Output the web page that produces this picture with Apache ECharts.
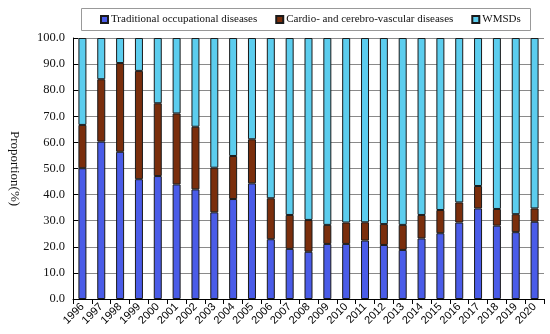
<!DOCTYPE html>
<html><head><meta charset="utf-8">
<script src="https://cdn.jsdelivr.net/npm/echarts@6/dist/echarts.min.js"></script>
<style>html,body{margin:0;padding:0;background:#fff}#c{width:550px;height:334px}</style>
</head><body><div id="c"></div>
<script>
const years = ['1996','1997','1998','1999','2000','2001','2002','2003','2004','2005','2006','2007','2008','2009','2010','2011','2012','2013','2014','2015','2016','2017','2018','2019','2020'];
const traditional = [50.1,60.3,56.4,45.9,47.1,43.9,42.0,33.2,38.3,44.3,22.9,19.2,18.1,21.1,21.1,22.4,20.7,18.8,23.2,25.2,29.3,34.7,28.1,25.6,29.6];
const cardioTop = [66.7,84.2,90.4,87.4,75.0,71.1,66.0,50.3,54.8,61.2,38.6,32.2,30.3,28.4,29.3,29.4,28.7,28.4,32.2,34.1,37.0,43.3,34.5,32.5,34.7];
const cardio = cardioTop.map((t,i)=>+(t-traditional[i]).toFixed(1));
const wmsds = cardioTop.map(t=>+(100-t).toFixed(1));
const yTicks = [0,10,20,30,40,50,60,70,80,90,100];

const chart = echarts.init(document.getElementById('c'));
const serif = 'Liberation Serif';
const border = {borderColor:'#1a1a1a', borderWidth:1};
chart.setOption({
  animation:false,
  graphic:[{type:'rect', shape:{x:81.5, y:8.5, width:449, height:22},
    style:{fill:'none', stroke:'#999', lineWidth:1}}],
  legend:{
    left:100, top:14, itemGap:18, padding:0,
    itemWidth:7, itemHeight:7, icon:'rect',
    textStyle:{fontFamily:serif, fontSize:11, color:'#111', padding:[0,0,0,-2]},
    data:['Traditional occupational diseases','Cardio- and cerebro-vascular diseases','WMSDs']
  },
  grid:{left:68, right:6, top:38, bottom:35},
  xAxis:{type:'category', data:years,
    axisLine:{lineStyle:{color:'#000'}},
    axisTick:{show:true, alignWithLabel:false, lineStyle:{color:'#000'}},
    axisLabel:{rotate:45, interval:0, fontFamily:'Liberation Sans', fontSize:11, color:'#000', margin:6}
  },
  yAxis:{type:'value', min:0, max:100, interval:10,
    name:'Proportion(%)', nameLocation:'middle', nameRotate:-90, nameGap:52,
    nameTextStyle:{fontFamily:serif, fontSize:13, color:'#111'},
    axisLine:{show:true, lineStyle:{color:'#000'}},
    axisTick:{show:true, inside:true, lineStyle:{color:'#000'}},
    axisLabel:{formatter:v=>v.toFixed(1), fontFamily:serif, fontSize:12.5, color:'#111', margin:8},
    splitLine:{lineStyle:{color:'#8a8a8a'}}
  },
  series:[
    {name:'Traditional occupational diseases', type:'bar', stack:'a', data:traditional, barWidth:8,
      itemStyle:Object.assign({color:'#4a5ce8'}, border)},
    {name:'Cardio- and cerebro-vascular diseases', type:'bar', stack:'a', data:cardio, barWidth:8,
      itemStyle:Object.assign({color:'#7a2e0c'}, border)},
    {name:'WMSDs', type:'bar', stack:'a', data:wmsds, barWidth:8,
      itemStyle:Object.assign({color:'#5ccdee'}, border)}
  ]
});
</script></body></html>
